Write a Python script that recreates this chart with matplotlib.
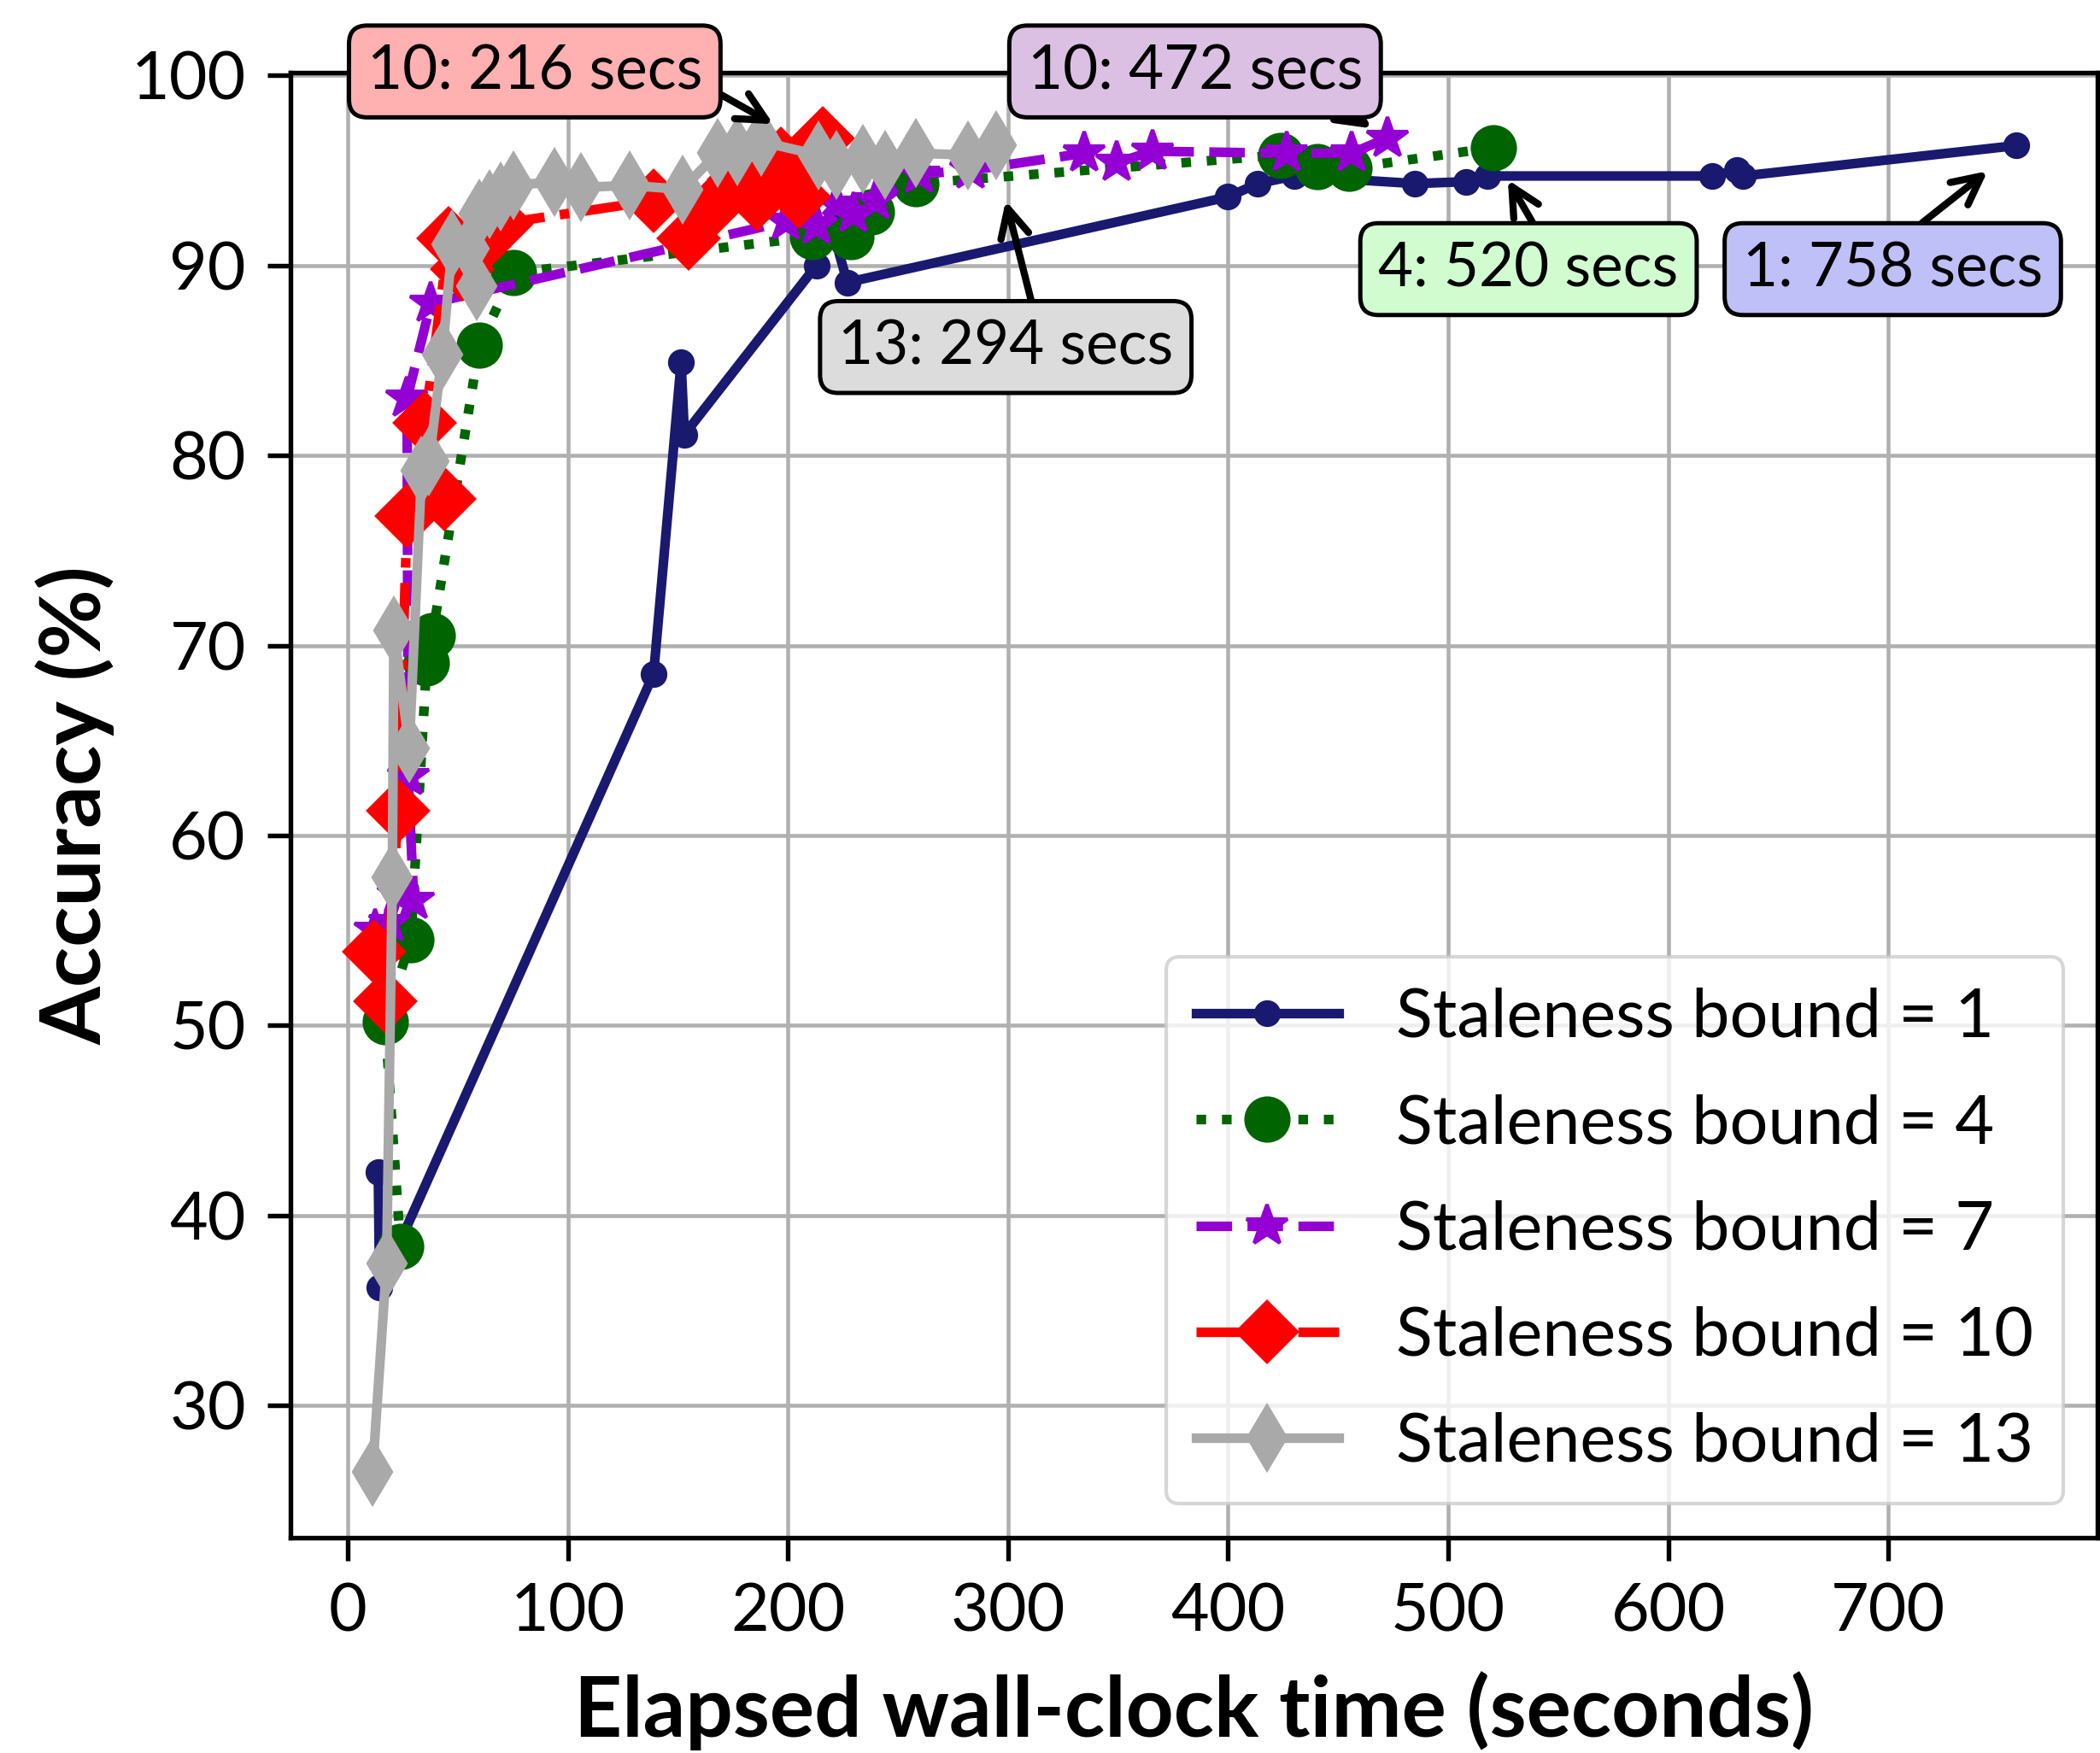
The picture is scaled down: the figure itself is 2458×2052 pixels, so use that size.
import matplotlib
matplotlib.use("Agg")
import matplotlib.pyplot as plt

plt.rcParams['font.family'] = ['Lato', 'DejaVu Sans']

# staleness bound = 1
t1 = [13.9, 14.5, 139, 151.5, 153, 213, 220, 227, 400, 413.5, 430, 485, 508, 518, 620, 631, 634, 758]
a1 = [42.3, 36.2, 68.5, 84.9, 81.1, 90.0, 92.0, 89.1, 93.6, 94.3, 94.7, 94.3, 94.4, 94.7, 94.7, 95.0, 94.7, 96.3]

# staleness bound = 4
t4 = [24, 17, 28.7, 35.9, 38.5, 59.8, 75.3, 211, 228.6, 238, 258, 424, 440.7, 455, 520.7]
a4 = [38.4, 50.2, 54.5, 69.1, 70.5, 85.8, 89.6, 91.5, 91.5, 92.8, 94.3, 95.8, 95.2, 95.1, 96.2]

# staleness bound = 7
t7 = [12.6, 19, 23, 30, 27.5, 27, 37.8, 199, 213, 222, 230, 240, 259.6, 283, 334.7, 349.5, 365.7, 426.5, 456.2, 472.4]
a7 = [55.0, 55.4, 56.9, 56.6, 63.1, 83.0, 88.0, 92.3, 92.1, 93.2, 92.7, 93.4, 94.8, 95.0, 95.9, 95.4, 96.0, 95.9, 95.9, 96.7]

# staleness bound = 10
t10 = [12, 17, 23, 27, 44, 35, 46, 52, 60, 70, 139, 155, 165, 178, 186, 197, 205, 210, 216]
a10 = [53.9, 51.3, 61.3, 76.8, 77.7, 81.7, 91.4, 89.8, 91.0, 92.2, 93.4, 91.4, 93.0, 94.5, 93.5, 95.6, 93.6, 95.5, 96.7]

# staleness bound = 13
t13 = [11.3, 17.7, 20.3, 21, 28, 33.6, 37, 43, 47.5, 55, 58.5, 60, 64.3, 69.5, 75.3, 94, 106, 128, 152, 168, 177, 188,
       214, 222, 234, 244, 258, 282, 294.6]
a13 = [26.5, 37.5, 57.8, 70.8, 64.6, 79.2, 79.7, 85.3, 91.1, 90.9, 88.9, 92.7, 93.2, 93.6, 94.2, 94.4, 94.1, 94.2, 94.0,
       95.9, 96.0, 96.5, 95.8, 95.3, 95.6, 95.3, 95.9, 95.8, 96.3]

fig = plt.figure(figsize=(2458 / 300, 2052 / 300), dpi=300)
ax = fig.add_axes([0.1383, 0.1228, 0.8605, 0.8359])

lw = 2.7
ax.plot(t1, a1, '-', color='#191970', marker='o', markersize=6.5, linewidth=lw, label='Staleness bound = 1')
ax.plot(t4, a4, ':', color='#006400', marker='o', markersize=12, linewidth=lw, label='Staleness bound = 4')
ax.plot(t7, a7, '--', color='#9400D3', marker='*', markersize=12, linewidth=lw, label='Staleness bound = 7')
ax.plot(t10, a10, '-.', color='#FF0000', marker='D', markersize=12, linewidth=lw, label='Staleness bound = 10')
ax.plot(t13, a13, '-', color='#A9A9A9', marker='d', markersize=12.5, linewidth=lw, label='Staleness bound = 13')

ax.set_xlim(-26, 795)
ax.set_ylim(23.05, 100.15)
ax.set_xticks([0, 100, 200, 300, 400, 500, 600, 700])
ax.set_yticks([30, 40, 50, 60, 70, 80, 90, 100])
ax.tick_params(labelsize=18.5, width=1.3, length=6.5, pad=6)
for s in ax.spines.values():
    s.set_linewidth(1.3)
ax.grid(True, color='#b0b0b0', linewidth=1.1)
ax.set_axisbelow(True)

ax.set_xlabel('Elapsed wall-clock time (seconds)', fontsize=23.5, fontweight='bold', labelpad=8)
ax.set_ylabel('Accuracy (%)', fontsize=23.5, fontweight='bold', labelpad=4.5)

ax.legend(loc='lower right', fontsize=19, handlelength=2.1, handletextpad=0.85, borderpad=0.45,
          labelspacing=0.66, borderaxespad=0.5, framealpha=0.8)

notes = [
    ('10: 216 secs', (193.4, 97.43), (85, 100.2), '#ffb0b0', (1.0, 0.27)),
    ('10: 472 secs', (465.3, 97.2), (385, 100.2), '#dcc0e4', (0.9, 0.0)),
    ('13: 294 secs', (299, 93.4), (299, 85.7), '#dcdcdc', (0.59, 1.0)),
    ('4: 520 secs', (527.1, 94.5), (536.5, 89.8), '#d0fcd0', (0.55, 1.0)),
    ('1: 758 secs', (745.1, 94.96), (702, 89.8), '#c0c0f8', (0.52, 1.0)),
]
for txt, xy, xytext, fc, rel in notes:
    ax.annotate(txt, xy=xy, xytext=xytext, ha='center', va='center', fontsize=17,
                bbox=dict(boxstyle='round,pad=0.3', fc=fc, ec='black', lw=1.2),
                arrowprops=dict(arrowstyle='->', color='black', lw=2, mutation_scale=20,
                                shrinkA=0, shrinkB=0, relpos=rel),
                annotation_clip=False)

fig.savefig('out.png', dpi=300)
